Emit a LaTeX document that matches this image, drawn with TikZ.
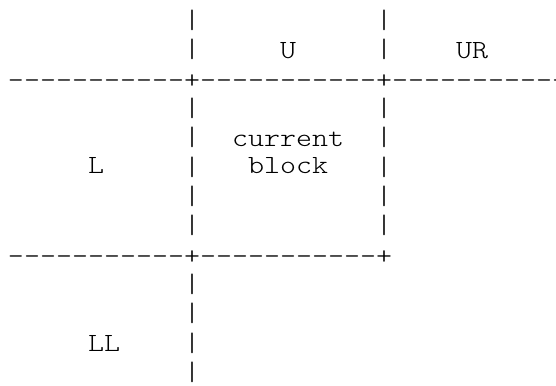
\documentclass[tikz,border=0pt]{standalone}
\usepackage{fontspec}
\usepackage{graphicx}
\setmonofont{Latin Modern Mono Light}
\newcommand\sq[1]{\scalebox{1}[0.86]{#1}}
\newcommand\vb{\scalebox{1}[0.875]{|}}
\begin{document}
\begin{tikzpicture}[x=1pt,y=-1pt,
  asc/.style={font=\ttfamily\fontsize{30.48pt}{30pt}\selectfont,
    inner sep=0pt, outer sep=0pt, anchor=base west, text=black}]
\useasboundingbox (0,0) rectangle (556,385);
% vertical bars, left column (col 11)
\foreach \r in {1,2,4,5,6,7,8,10,11,12,13}
  \node[asc] (lb\r) at (184,{28.5+29.33*(\r-1)}) {\vb};
% vertical bars, right column (col 23)
\foreach \r in {1,2,4,5,6,7,8}
  \node[asc] (rb\r) at (376,{28.5+29.33*(\r-1)}) {\vb};
% horizontal separators
\node[asc] (top) at (8,88.5) {\sq{-----------+-----------+-----------}};
\node[asc] (bot) at (8,264.4) {\sq{-----------+-----------+}};
% labels
\node[asc] (U)  at (280,58.3) {\sq{U}};
\node[asc] (UR) at (456,58.3) {\sq{UR}};
\node[asc] (cur) at (232,146.5) {\sq{current}};
\node[asc] (blk) at (248,173.5) {\sq{block}};
\node[asc] (L)  at (88,173.5) {\sq{L}};
\node[asc] (LL) at (88,351.5) {\sq{LL}};
\end{tikzpicture}
\end{document}
